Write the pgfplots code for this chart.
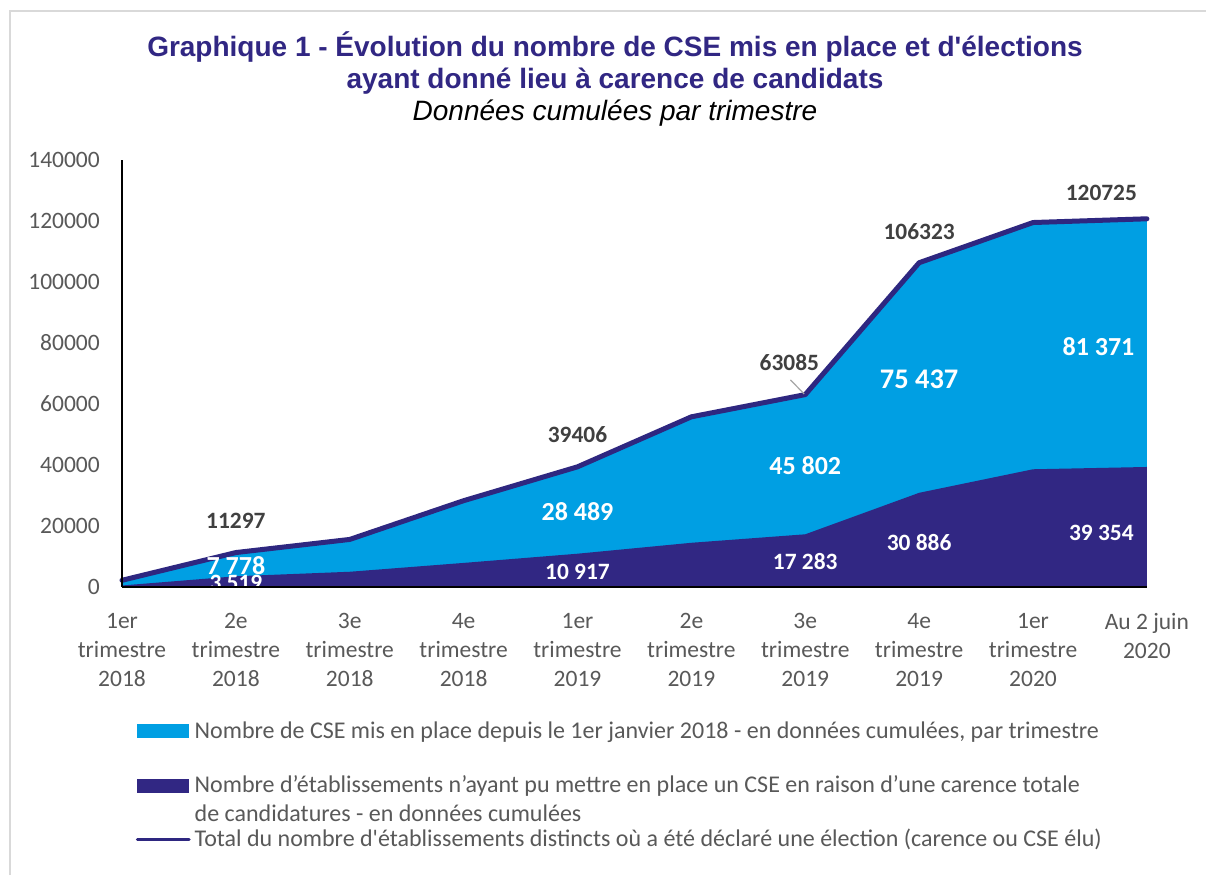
\documentclass[border=0pt]{standalone}
\usepackage{fontspec}
\setmainfont{Carlito}
\newfontfamily\titlefont{Liberation Sans}
\usepackage{pgfplots}
\pgfplotsset{compat=1.18}

\definecolor{cseblue}{HTML}{009FE3}
\definecolor{carpurple}{HTML}{312783}
\definecolor{linepurple}{HTML}{2E2780}
\definecolor{titlepurple}{HTML}{312783}
\definecolor{labgray}{HTML}{595959}
\definecolor{darklab}{HTML}{404040}

\begin{document}
\begin{tikzpicture}
\path[use as bounding box, fill=white] (0,0) rectangle (1206pt,-875pt);
\draw[color=black!15, line width=1.5pt] (10pt,-875pt) -- (10pt,-11pt) -- (1206pt,-11pt);

\node[anchor=base, inner sep=0pt, font=\titlefont\bfseries\fontsize{28}{33}\selectfont, text=titlepurple] at (615pt,-56.7pt) {Graphique 1 - Évolution du nombre de CSE mis en place et d\textquotesingle élections};
\node[anchor=base, inner sep=0pt, font=\titlefont\bfseries\fontsize{28}{33}\selectfont, text=titlepurple] at (615pt,-88pt) {ayant donné lieu à carence de candidats};
\node[anchor=base, inner sep=0pt, font=\titlefont\itshape\fontsize{28}{33}\selectfont, text=black] at (615pt,-120.5pt) {Données cumulées par trimestre};

% legend
\fill[cseblue] (137pt,-724pt) rectangle (189pt,-737.5pt);
\node[anchor=base west, inner sep=0pt, font=\fontsize{24}{29}\selectfont, text=labgray] at (194.5pt,-738pt) {Nombre de CSE mis en place depuis le 1er janvier 2018 - en données cumulées, par trimestre};
\fill[carpurple] (137pt,-779.3pt) rectangle (189pt,-792.5pt);
\node[anchor=base west, inner sep=0pt, font=\fontsize{24}{29}\selectfont, text=labgray] at (194.5pt,-792.7pt) {Nombre d’établissements n’ayant pu mettre en place un CSE en raison d’une carence totale};
\node[anchor=base west, inner sep=0pt, font=\fontsize{24}{29}\selectfont, text=labgray] at (194.5pt,-821pt) {de candidatures - en données cumulées};
\draw[linepurple, line width=3.5pt, line cap=round] (137.5pt,-839.3pt) -- (189pt,-839.3pt);
\node[anchor=base west, inner sep=0pt, font=\fontsize{24}{29}\selectfont, text=labgray] at (194.5pt,-846pt) {Total du nombre d\textquotesingle établissements distincts où a été déclaré une élection (carence ou CSE élu)};

\begin{axis}[
  at={(122pt,-587pt)}, anchor=south west,
  scale only axis, width=1025pt, height=427pt,
  xmin=0, xmax=9, ymin=0, ymax=140000,
  axis on top,
  axis x line*=bottom, axis y line*=left,
  axis line style={black, line width=1.8pt, -},
  xtick={0,1,2,3,4,5,6,7,8,9},
  xticklabels={{1er\\trimestre\\2018},{2e\\trimestre\\2018},{3e\\trimestre\\2018},{4e\\trimestre\\2018},{1er\\trimestre\\2019},{2e\\trimestre\\2019},{3e\\trimestre\\2019},{4e\\trimestre\\2019},{1er\\trimestre\\2020},{Au 2 juin\\2020}},
  ytick={0,20000,40000,60000,80000,100000,120000,140000},
  major tick length=0pt,
  scaled y ticks=false,
  /pgf/number format/assume math mode=true,
  /pgf/number format/fixed,
  /pgf/number format/precision=0,
  /pgf/number format/1000 sep={},
  yticklabel style={font=\fontsize{23.5}{28}\selectfont, text=labgray, inner sep=0pt, xshift=-22pt},
  xticklabel style={align=center, font=\fontsize{23.5}{29.2}\selectfont, text=labgray, inner sep=0pt, yshift=-26pt},
  clip=false,
]
\addplot[draw=none, fill=cseblue]
  coordinates {(0,2200) (1,11297) (2,15600) (3,28300) (4,39406) (5,55800) (6,63085) (7,106323) (8,119500) (9,120725)} \closedcycle;
\addplot[draw=none, fill=carpurple]
  coordinates {(0,500) (1,3519) (2,5000) (3,7900) (4,10917) (5,14500) (6,17283) (7,30886) (8,38600) (9,39354)} \closedcycle;
\addplot[draw=linepurple, line width=5pt, line join=round, line cap=round]
  coordinates {(0,2200) (1,11297) (2,15600) (3,28300) (4,39406) (5,55800) (6,63085) (7,106323) (8,119500) (9,120725)};

% data labels
\tikzset{lw/.style={font=\bfseries\fontsize{26}{30}\selectfont, text=white, inner sep=0pt},
         ls/.style={font=\bfseries\fontsize{23.4}{28}\selectfont, text=white, inner sep=0pt},
         ld/.style={font=\bfseries\fontsize{23.4}{28}\selectfont, text=darklab, inner sep=0pt}}
\node[ld] at (axis cs:1,21640) {11297};
\node[lw] at (axis cs:1,6885) {7 778};
\begin{scope}
\clip (axis cs:0,0) rectangle (axis cs:9,140000);
\node[ls] at (axis cs:1,1213) {3 519};
\end{scope}
\node[ld] at (axis cs:4,49836) {39406};
\node[lw] at (axis cs:4,24690) {28 489};
\node[ls] at (axis cs:4,5016) {10 917};
\node[ld] at (axis cs:5.86,73540) {63085};
\draw[black!35, line width=1.2pt] (axis cs:5.87,67900) -- (axis cs:5.99,63300);
\node[lw] at (axis cs:6,39670) {45 802};
\node[ls] at (axis cs:6,8295) {17 283};
\node[ld] at (axis cs:7,116490) {106323};
\node[lw, font=\bfseries\fontsize{28.4}{32}\selectfont] at (axis cs:7,68200) {75 437};
\node[ls] at (axis cs:7,14754) {30 886};
\node[ld] at (axis cs:8.6,129080) {120725};
\node[lw] at (axis cs:8.575,78790) {81 371};
\node[ls] at (axis cs:8.6,17705) {39 354};
\end{axis}
\end{tikzpicture}
\end{document}
